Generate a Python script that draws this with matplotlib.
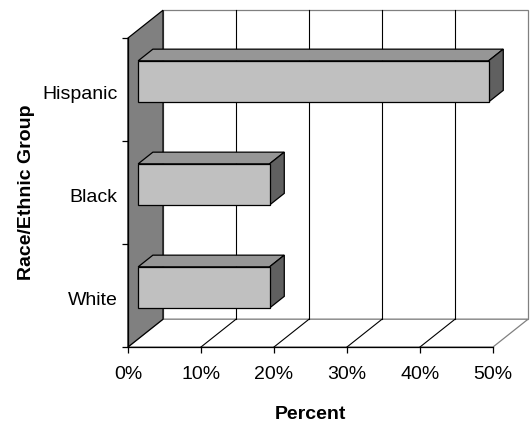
import matplotlib.pyplot as plt
from matplotlib.patches import Polygon

groups = ['White', 'Black', 'Hispanic']
percent = [18, 18, 48]
x_ticks = [0, 10, 20, 30, 40, 50]

plt.rcParams['font.family'] = ['Liberation Sans', 'DejaVu Sans']

# fake 3D: how far the back plane is shifted (data units)
DX = 4.8
DY = 0.27
BAR_D0, BAR_D1 = 0.29, 0.71
BAR_H = 0.4
FS = 14


def proj(x, y, d):
    """Shift a point on the front plane back to depth d (0..1)."""
    return (x + DX * d, y + DY * d)


def face(ax, pts, fc, ec='black', lw=0.9, z=3):
    ax.add_patch(Polygon([proj(*p) for p in pts], closed=True, facecolor=fc,
                         edgecolor=ec, linewidth=lw, clip_on=False, zorder=z))


fig = plt.figure(figsize=(5.3, 4.23), dpi=100)
ax = fig.add_axes([128 / 530, 76 / 423, 365 / 530, 309 / 423])
xmax = x_ticks[-1]
ymax = len(groups)
ax.set_xlim(0, xmax)
ax.set_ylim(0, ymax)

# walls and floor
face(ax, [(0, 0, 1), (xmax, 0, 1), (xmax, ymax, 1), (0, ymax, 1)], 'white', '#808080', 0.9, 1)
face(ax, [(0, 0, 0), (xmax, 0, 0), (xmax, 0, 1), (0, 0, 1)], 'white', '#808080', 0.9, 1)
face(ax, [(0, 0, 0), (0, ymax, 0), (0, ymax, 1), (0, 0, 1)], '#808080', 'black', 0.9, 1.5)

for t in x_ticks[1:-1]:
    xs, ys = zip(proj(t, 0, 1), proj(t, ymax, 1))
    ax.plot(xs, ys, color='black', lw=0.8, clip_on=False, zorder=1.2)
    xs, ys = zip(proj(t, 0, 0), proj(t, 0, 1))
    ax.plot(xs, ys, color='black', lw=0.8, clip_on=False, zorder=1.2)

# bars
for i, v in enumerate(percent):
    y0 = i + 0.5 - BAR_H / 2
    y1 = i + 0.5 + BAR_H / 2
    face(ax, [(0, y1, BAR_D0), (v, y1, BAR_D0), (v, y1, BAR_D1), (0, y1, BAR_D1)], '#969696')
    face(ax, [(v, y0, BAR_D0), (v, y1, BAR_D0), (v, y1, BAR_D1), (v, y0, BAR_D1)], '#606060')
    face(ax, [(0, y0, BAR_D0), (v, y0, BAR_D0), (v, y1, BAR_D0), (0, y1, BAR_D0)], '#c0c0c0')

for s in ['top', 'right']:
    ax.spines[s].set_visible(False)
for s in ['left', 'bottom']:
    ax.spines[s].set_linewidth(0.9)

ax.set_xticks(x_ticks)
ax.set_xticklabels(['%d%%' % t for t in x_ticks], fontsize=FS)
ax.tick_params(axis='x', length=4, width=0.9, pad=10)

ax.set_yticks(range(ymax + 1))
ax.set_yticklabels([])
ax.set_yticks([i + 0.47 for i in range(ymax)], minor=True)
ax.set_yticklabels(groups, minor=True, fontsize=FS)
ax.tick_params(axis='y', which='major', length=4, width=0.9)
ax.tick_params(axis='y', which='minor', length=0, pad=7.5)

ax.set_xlabel('Percent', fontsize=FS, fontweight='bold', labelpad=16)
ax.set_ylabel('Race/Ethnic Group', fontsize=FS, fontweight='bold', labelpad=5)

fig.savefig('out.png', dpi=100)
